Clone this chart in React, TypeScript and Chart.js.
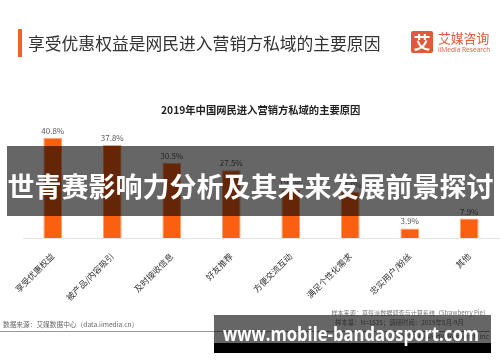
import React, { useEffect, useRef } from "react";
import { Chart, registerables } from "chart.js";

Chart.register(...registerables);

const pageTitle = "享受优惠权益是网民进入营销方私域的主要原因";
const chartTitle = "2019年中国网民进入营销方私域的主要原因";
const categories = [
  "享受优惠权益",
  "被产品/内容吸引",
  "及时接收信息",
  "好友推荐",
  "方便交流互动",
  "满足个性化需求",
  "忠实用户/粉丝",
  "其他",
];
const values = [40.8, 37.8, 30.5, 27.5, 19.6, 18.8, 3.9, 7.9];
const bandText = "世青赛影响力分析及其未来发展前景探讨";
const sourceLeft = "数据来源：艾媒数据中心（data.iimedia.cn）";
const sourceRight1 = "样本来源：草莓派数据调查与计算系统（Strawberry Pie）";
const sourceRight2 = "样本量：N=1525；调研时间：2019年8月-9月";
const sourceRight3 = "©2019 iiMedia Research Inc";
const watermark = "www.mobile-bandaosport.com";

const CJK = '"Noto Sans CJK SC", "Noto Sans", sans-serif';

const valueLabelPlugin = {
  id: "valueLabels",
  afterDatasetsDraw(chart: any) {
    const ctx = chart.ctx;
    const meta = chart.getDatasetMeta(0);
    ctx.save();
    ctx.font = `8px ${CJK}`;
    ctx.fillStyle = "#595959";
    ctx.textAlign = "center";
    ctx.textBaseline = "bottom";
    meta.data.forEach((el: any, i: number) => {
      ctx.fillText(values[i].toFixed(1) + "%", el.x, el.y - 3);
    });
    ctx.restore();
  },
};

export default function App() {
  const ref = useRef<HTMLCanvasElement>(null);
  const wmRef = useRef<HTMLSpanElement>(null);
  useEffect(() => {
    if (wmRef.current) {
      const w = wmRef.current.getBoundingClientRect().width;
      if (w > 0) wmRef.current.style.transform = `scaleX(${256 / w})`;
    }
    if (!ref.current) return;
    const chart = new Chart(ref.current, {
      type: "bar",
      data: {
        labels: categories,
        datasets: [
          {
            data: values,
            backgroundColor: "#FA600F",
            borderColor: "#FDA070",
            borderWidth: 1,
            barPercentage: 0.315,
            categoryPercentage: 1,
          },
        ],
      },
      options: {
        responsive: false,
        animation: false,
        layout: { padding: { left: 23, right: 1, top: 115, bottom: 0 } },
        plugins: {
          legend: { display: false },
          tooltip: { enabled: false },
          title: { display: false },
        },
        scales: {
          y: { display: false, min: 0, max: 50 },
          x: {
            grid: { display: false },
            border: { display: true, color: "#e3e3e3", width: 1 },
            ticks: {
              autoSkip: false,
              minRotation: 45,
              maxRotation: 45,
              color: "#333",
              font: { size: 8.5, family: CJK },
              padding: 5,
            },
            afterFit: (scale: any) => {
              scale.height = 124;
            },
          },
        },
      },
      plugins: [valueLabelPlugin],
    });
    return () => chart.destroy();
  }, []);

  const abs = (s: React.CSSProperties): React.CSSProperties => ({
    position: "absolute",
    whiteSpace: "nowrap",
    ...s,
  });

  return (
    <div
      style={{
        position: "fixed",
        left: 0,
        top: 0,
        width: 500,
        height: 362,
        overflow: "hidden",
        background: "#fff",
        fontFamily: CJK,
      }}
    >
      <canvas
        ref={ref}
        width={500}
        height={362}
        style={{ position: "absolute", left: 0, top: 0, width: 500, height: 362 }}
      />
      {/* header */}
      <div style={abs({ left: 18, top: 29, width: 4, height: 28, background: "#F4612B" })} />
      <div
        style={abs({
          left: 28,
          top: 31,
          fontSize: 16.8,
          lineHeight: "24px",
          color: "#333",
        })}
      >
        {pageTitle}
      </div>
      {/* logo */}
      <div
        style={abs({
          left: 411,
          top: 31,
          width: 22,
          height: 22,
          background: "#E05A3A",
          borderRadius: 2,
          color: "#fff",
          fontSize: 17,
          lineHeight: "22px",
          textAlign: "center",
          fontWeight: 700,
        })}
      >
        艾
      </div>
      <div style={abs({ left: 438, top: 29, fontSize: 12.8, lineHeight: "17px", color: "#E05A3A" })}>
        艾媒咨询
      </div>
      <div
        style={abs({
          left: 438,
          top: 45,
          fontSize: 6.6,
          lineHeight: "9px",
          color: "#E05A3A",
          fontFamily: '"Open Sans", sans-serif',
        })}
      >
        iiMedia Research
      </div>
      {/* chart title */}
      <div
        style={abs({
          left: 161,
          top: 103,
          fontSize: 10.3,
          lineHeight: "14px",
          fontWeight: 700,
          color: "#222",
        })}
      >
        {chartTitle}
      </div>
      {/* footnotes */}
      <div style={abs({ left: 3, top: 319, fontSize: 6.7, lineHeight: "10px", color: "#666" })}>
        {sourceLeft}
      </div>
      <div style={abs({ right: 11, top: 308, fontSize: 6.1, lineHeight: "10px", color: "#777" })}>
        {sourceRight1}
      </div>
      <div style={abs({ left: 335, top: 318, fontSize: 6.4, lineHeight: "10px", color: "#777" })}>
        {sourceRight2}
      </div>
      <div
        style={abs({
          right: 11,
          top: 332,
          fontSize: 7,
          lineHeight: "10px",
          color: "#777",
          fontFamily: '"Open Sans", sans-serif',
        })}
      >
        {sourceRight3}
      </div>
      <div style={abs({ left: 0, top: 331, width: 490, height: 1, background: "#999" })} />
      {/* overlay band */}
      <div
        style={abs({
          left: 7,
          top: 146,
          width: 487,
          height: 70,
          background: "rgba(0,0,0,0.6)",
          zIndex: 2,
        })}
      />
      <div
        style={abs({
          left: 7,
          top: 166,
          width: 487,
          textAlign: "center",
          fontSize: 27,
          lineHeight: "40px",
          fontWeight: 700,
          color: "#fff",
          zIndex: 3,
        })}
      >
        {bandText}
      </div>
      {/* watermark */}
      <div style={abs({ left: 214, top: 315, width: 277, height: 28, background: "rgba(0,0,0,0.6)", zIndex: 2 })} />
      <div style={abs({ left: 214, top: 343, width: 277, height: 10, background: "#000", zIndex: 2 })} />
      <div style={abs({ left: 223, top: 320, zIndex: 3 })}>
        <span
          ref={wmRef}
          style={{
            display: "inline-block",
            transformOrigin: "0 0",
            fontSize: 20,
            lineHeight: "28px",
            fontWeight: 700,
            color: "#fff",
            fontFamily: '"Open Sans", sans-serif',
          }}
        >
          {watermark}
        </span>
      </div>
    </div>
  );
}
